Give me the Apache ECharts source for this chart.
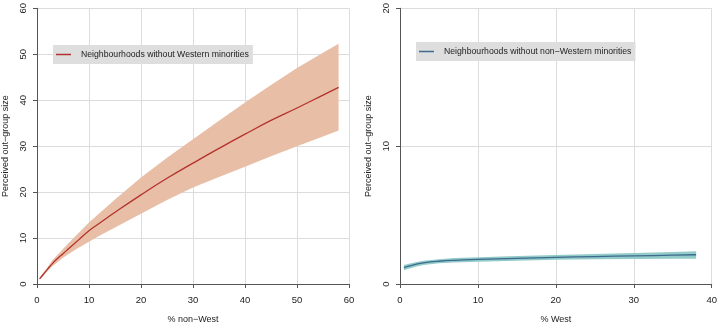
<!DOCTYPE html>
<html>
<head>
<meta charset="utf-8">
<script src="https://cdn.jsdelivr.net/npm/echarts@6/dist/echarts.min.js"></script>
<style>html,body{margin:0;padding:0;background:#fff}#c{width:720px;height:329px}</style>
</head>
<body>
<div id="c"></div>
<script>
// Left panel: % non-West
var xsL    = [0.5, 1, 2, 3, 4, 5, 6, 8, 10, 12, 15, 20, 25, 30, 35, 40, 45, 50, 55, 58];
var meanL  = [1.1, 1.8, 3.2, 4.5, 5.6, 6.6, 7.6, 9.6, 11.6, 13.2, 15.6, 19.4, 23.0, 26.3, 29.5, 32.6, 35.6, 38.3, 41.1, 42.8];
var upperL = [1.3, 2.1, 3.6, 5.2, 6.4, 7.6, 8.8, 11.1, 13.4, 15.4, 18.4, 23.2, 27.5, 31.5, 35.5, 39.5, 43.3, 47.0, 50.3, 52.3];
var lowerL = [0.9, 1.5, 2.8, 3.9, 4.8, 5.7, 6.5, 7.9, 9.2, 10.5, 12.3, 15.3, 18.3, 21.0, 23.3, 25.5, 27.8, 30.0, 32.1, 33.4];
// Right panel: % West
var xsR    = [0.5, 1, 2, 3, 5, 7, 10, 15, 20, 25, 30, 35, 38];
var meanR  = [1.18, 1.27, 1.42, 1.53, 1.65, 1.72, 1.78, 1.86, 1.93, 1.99, 2.04, 2.09, 2.12];
var upperR = [1.37, 1.45, 1.58, 1.69, 1.80, 1.88, 1.94, 2.03, 2.11, 2.18, 2.25, 2.32, 2.37];
var lowerR = [0.99, 1.09, 1.26, 1.37, 1.50, 1.56, 1.62, 1.69, 1.75, 1.79, 1.82, 1.83, 1.84];

var nameL = 'Neighbourhoods without Western minorities';
var nameR = 'Neighbourhoods without non\u2212Western minorities';
var xTitleL = '% non\u2212West';
var xTitleR = '% West';
var yTitle = 'Perceived out\u2212group size';

function pairs(xs, ys){ return xs.map(function(x,i){ return [x, ys[i]]; }); }
function bandRows(xs, lo, hi){ return xs.map(function(x,i){ return [x, lo[i], hi[i]]; }); }

var FONT = 'Liberation Sans, Arial, sans-serif';
var axisCol = '#555';
var gridCol = '#dcdcdc';

function xAxis(idx, max, title){
  return {
    type:'value', gridIndex:idx, min:0, max:max, interval:10,
    name:title, nameLocation:'middle', nameGap:31,
    nameTextStyle:{color:'#222', fontSize:9, fontFamily:FONT},
    axisLine:{show:true, onZero:false, lineStyle:{color:axisCol, width:1}},
    axisTick:{show:true, length:4, lineStyle:{color:axisCol}},
    axisLabel:{color:'#222', fontSize:9.5, fontFamily:FONT, margin:11},
    splitLine:{show:true, lineStyle:{color:gridCol, width:1}}
  };
}
function yAxis(idx, max, interval){
  return {
    type:'value', gridIndex:idx, min:0, max:max, interval:interval,
    name:yTitle, nameLocation:'middle', nameGap:27,
    nameTextStyle:{color:'#222', fontSize:9, fontFamily:FONT},
    axisLine:{show:true, lineStyle:{color:axisCol, width:1}},
    axisTick:{show:true, length:4, lineStyle:{color:axisCol}},
    axisLabel:{color:'#222', fontSize:9.5, fontFamily:FONT, rotate:90, margin:9},
    splitLine:{show:true, lineStyle:{color:gridCol, width:1}}
  };
}

function bandSeries(idx, rows, color){
  return {
    type:'custom', xAxisIndex:idx, yAxisIndex:idx, data:rows, silent:true, z:1,
    encode:{x:0, y:[1,2]},
    renderItem:function(params, api){
      if (params.dataIndex !== 0) return;
      var top = [], bot = [];
      for (var i = 0; i < rows.length; i++){
        top.push(api.coord([rows[i][0], rows[i][2]]));
        bot.push(api.coord([rows[i][0], rows[i][1]]));
      }
      var pts = top.concat(bot.reverse());
      return {type:'polygon', shape:{points:pts, smooth:0}, style:{fill:color, stroke:null}};
    }
  };
}

var option = {
  backgroundColor:'#fff',
  animation:false,
  grid:[
    {left:37, right:371, top:7, bottom:39},
    {left:400, right:8, top:7, bottom:39}
  ],
  xAxis:[xAxis(0, 60, xTitleL), xAxis(1, 40, xTitleR)],
  yAxis:[yAxis(0, 60, 10), yAxis(1, 20, 10)],
  legend:[
    {data:[nameL], left:53, top:45, padding:[5,4,5,3], itemGap:0,
     backgroundColor:'#dedede', itemWidth:15, itemHeight:1.5, icon:'rect',
     textStyle:{color:'#222', fontSize:8.7, fontFamily:FONT, padding:[0,0,0,5]}},
    {data:[nameR], left:416, top:42, padding:[5,4,5,3], itemGap:0,
     backgroundColor:'#dedede', itemWidth:15, itemHeight:1.5, icon:'rect',
     textStyle:{color:'#222', fontSize:8.7, fontFamily:FONT, padding:[0,0,0,5]}}
  ],
  series:[
    bandSeries(0, bandRows(xsL, lowerL, upperL), '#e8bea7'),
    {type:'line', name:nameL, xAxisIndex:0, yAxisIndex:0, data:pairs(xsL, meanL), smooth:true, z:3,
     symbol:'none', color:'#b3322b', lineStyle:{color:'#b3322b', width:1.3}},
    bandSeries(1, bandRows(xsR, lowerR, upperR), '#93cbc9'),
    {type:'line', name:nameR, xAxisIndex:1, yAxisIndex:1, data:pairs(xsR, meanR), smooth:true, z:3,
     symbol:'none', color:'#3d6a8e', lineStyle:{color:'#3d6a8e', width:1.3}}
  ]
};
var chart = echarts.init(document.getElementById('c'), null, {renderer:'canvas'});
chart.setOption(option);
</script>
</body>
</html>
